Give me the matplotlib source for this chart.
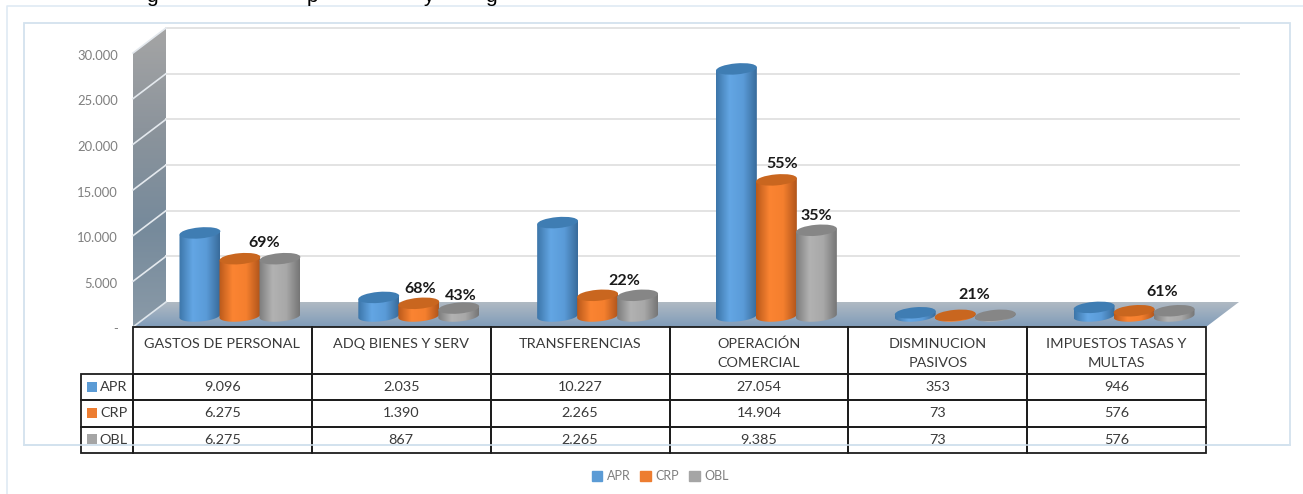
import numpy as np
import matplotlib
matplotlib.use('Agg')
import matplotlib.pyplot as plt
from matplotlib.colors import LinearSegmentedColormap
from matplotlib.lines import Line2D
from matplotlib.patches import Ellipse, Patch, Rectangle
from matplotlib.path import Path
from matplotlib.table import Table
from matplotlib.transforms import Affine2D, IdentityTransform

# Datos
categorias = ['GASTOS DE PERSONAL\n ', 'ADQ BIENES Y SERV\n ', 'TRANSFERENCIAS\n ',
              'OPERACIÓN\nCOMERCIAL', 'DISMINUCION\nPASIVOS', 'IMPUESTOS TASAS Y\nMULTAS']
series = ['APR', 'CRP', 'OBL']
apr = [9096, 2035, 10227, 27054, 353, 946]
crp = [6275, 1390, 2265, 14904, 73, 576]
obl = [6275, 867, 2265, 9385, 73, 576]
ticks_y = [0, 5000, 10000, 15000, 20000, 25000, 30000]
ticks_txt = ['-', '5.000', '10.000', '15.000', '20.000', '25.000', '30.000']
pct_txt = ['69%', '68%', '43%', '22%', '55%', '35%', '21%', '61%']
pct_x = [264, 420, 461, 624, 782, 816, 974, 1162]
pct_y = [243, 289, 296, 281, 164, 216, 295, 292]

colores = ['#5b9bd5', '#ed7d31', '#a5a5a5']
cuerpo = [['#3c75a8', '#63a6e4', '#5a9bd8', '#386b9a'],
          ['#b9591a', '#fb8432', '#f57f2e', '#b0551b'],
          ['#7c7c7c', '#b2b2b2', '#a8a8a8', '#757575']]
tapa = ['#3f7db3', '#c9661f', '#868686']

W, H = 1303, 494
fig = plt.figure(figsize=(W / 100, H / 100), dpi=100)
plt.rcParams['font.family'] = ['Lato', 'DejaVu Sans']


def fx(px):
    return px / W


def fy(py):
    return 1 - py / H


# Marco de fondo
fig.add_artist(Line2D([fx(7), fx(7), fx(1303)], [fy(494), fy(6), fy(6)], color='#dfeaf3', lw=1.2, zorder=-2))
fig.add_artist(Rectangle((fx(24), fy(445)), fx(1290 - 24), (445 - 23) / H, fc='white', ec='#d3e2ee', lw=1.3, zorder=-1))

ax = fig.add_axes([fx(133), fy(327), fx(1206 - 133), (327 - 53) / H])
ax.patch.set_visible(False)
ax.set_xlim(0, 6)
ax.set_ylim(0, 30000)
ax.set_autoscale_on(False)
for s in ax.spines.values():
    s.set_visible(False)
ax.set_xticks([])
ax.set_yticks(ticks_y)
ax.set_yticklabels(ticks_txt, color='#7f7f7f', fontsize=9.4)
ax.tick_params(axis='y', length=0, pad=11)
for lbl in ax.get_yticklabels():
    lbl.set_transform(lbl.get_transform() + Affine2D().translate(0, -1.5))

ident = IdentityTransform()
fondo = ax.transData + Affine2D().translate(33, 25)
base = ax.transData + Affine2D().translate(17.5, 11)


def degradado(puntos, cols, vertical, zorder):
    # rellena un poligono (en pixeles) con un degradado
    puntos = np.array(puntos)
    cmap = LinearSegmentedColormap.from_list('g', cols)
    g = np.linspace(0, 1, 256).reshape(-1, 1) if vertical else np.linspace(0, 1, 256).reshape(1, -1)
    ext = [puntos[:, 0].min(), puntos[:, 0].max(), puntos[:, 1].min(), puntos[:, 1].max()]
    im = ax.imshow(g, cmap=cmap, extent=ext, origin='lower' if not vertical else 'upper', aspect='auto',
                   transform=ident, zorder=zorder, interpolation='bilinear')
    im.set_clip_box(fig.bbox)
    im.set_clip_path(Path(puntos), ident)


# Pared lateral y piso
p00 = ax.transData.transform((0, 0))
p01 = ax.transData.transform((0, 30000))
b00 = fondo.transform((0, 0))
b01 = fondo.transform((0, 30000))
p60 = ax.transData.transform((6, 0))
b60 = fondo.transform((6, 0))
degradado([p00, p01, b01, b00], ['#a5a5a5', '#8c949c', '#768a9b', '#8a9aa8'], True, 1)
degradado([p00, p60, b60, b00], ['#b0bac3', '#7f9bb9'], True, 1)

# Grilla
for v in ticks_y[1:]:
    ax.plot([0, 6], [v, v], color='#e3e3e3', lw=1.4, transform=fondo, clip_on=False, zorder=1.5)
    a = ax.transData.transform((0, v))
    b = fondo.transform((0, v))
    ax.plot([a[0], b[0]], [a[1], b[1]], color='#e4e9ee', lw=1.2, transform=ident, clip_on=False, zorder=1.5)
ax.plot([p00[0], b00[0]], [p00[1], b00[1]], color='#dfe6ec', lw=1.2, transform=ident, clip_on=False, zorder=1.5)


def cilindro(xc, valor, j, z):
    x0, y0 = base.transform((xc, 0))
    x1, y1 = base.transform((xc, valor))
    r, alto, giro = 20.5, 5.5, np.deg2rad(5)
    t = np.linspace(np.pi, 2 * np.pi, 40)
    ex = r * np.cos(t) * np.cos(giro) - alto * np.sin(t) * np.sin(giro)
    ey = r * np.cos(t) * np.sin(giro) + alto * np.sin(t) * np.cos(giro)
    puntos = np.vstack([np.column_stack([x0 + ex, y0 + ey]),
                        [[x1 + ex[-1], y1 + ey[-1]], [x1 + ex[0], y1 + ey[0]]]])
    degradado(puntos, cuerpo[j], False, z)
    ax.add_patch(Ellipse((x1, y1), 2 * r, 2 * alto, angle=5, fc=tapa[j], ec='none',
                         transform=ident, zorder=z + 0.05, clip_on=False))


for i in range(6):
    for j, vals in enumerate([apr, crp, obl]):
        cilindro(i + 0.5 + (j - 1) * 40 / 178.83, vals[i], j, 2 + j * 0.1 + i * 0.01)

# Tabla de datos
tabla = Table(ax, bbox=[-52 / 1073, -126 / 274, 1 + 52 / 1073, 126 / 274])
altos = [47, 26.3, 26.3, 26.4]
filas = [apr, crp, obl]
for c, cat in enumerate(categorias):
    cel = tabla.add_cell(0, c + 1, 178.83, altos[0], text=cat, loc='center')
    cel.get_text().set_linespacing(1.7)
    cel.get_text().set_transform(Affine2D().translate(0, -3))
for f, nombre in enumerate(series):
    tabla.add_cell(f + 1, 0, 52, altos[f + 1], text=nombre, loc='right')
    for c, v in enumerate(filas[f]):
        tabla.add_cell(f + 1, c + 1, 178.83, altos[f + 1], text=f'{v:,}'.replace(',', '.'), loc='center')
tabla.auto_set_font_size(False)
tabla.set_fontsize(10.4)
tabla.set_zorder(6)
for cel in tabla.get_celld().values():
    cel.set_facecolor('none')
    cel.set_edgecolor('#1c1c1c')
    cel.set_linewidth(1.3)
    cel.get_text().set_color('#3a3a3a')
ax.add_table(tabla)

# Cuadros de color de la tabla
for j, yc in enumerate([387, 413, 439]):
    fig.add_artist(Rectangle((fx(87), fy(yc + 5)), 10 / W, 10 / H, fc=colores[j], ec='none', zorder=6))

# Porcentajes
for txt, x, y in zip(pct_txt, pct_x, pct_y):
    fig.text(fx(x), fy(y), txt, ha='center', va='center', fontsize=11.5, fontweight='bold', color='#1a1a1a', zorder=7)

# Linea del marco sobre la tabla
fig.add_artist(Line2D([fx(24), fx(1290)], [fy(445), fy(445)], color='#d3e2ee', lw=1.3, alpha=0.85, zorder=8))

# Restos del titulo cortado por arriba
for letra, x in zip(['g', 'p', 'y', 'g'], [152, 312, 428, 491]):
    fig.text(fx(x), fy(2), letra, ha='center', va='baseline', fontsize=15, family='Liberation Sans', color='black', zorder=7)

# Leyenda
fig.legend(handles=[Patch(color=c, label=s) for c, s in zip(colores, series)], ncol=3, frameon=False,
           loc='center', bbox_to_anchor=(fx(660), fy(476)), fontsize=9, labelcolor='#7f7f7f',
           handlelength=0.85, handleheight=0.85, handletextpad=0.35, columnspacing=0.8)

fig.savefig('out.png', dpi=100)
